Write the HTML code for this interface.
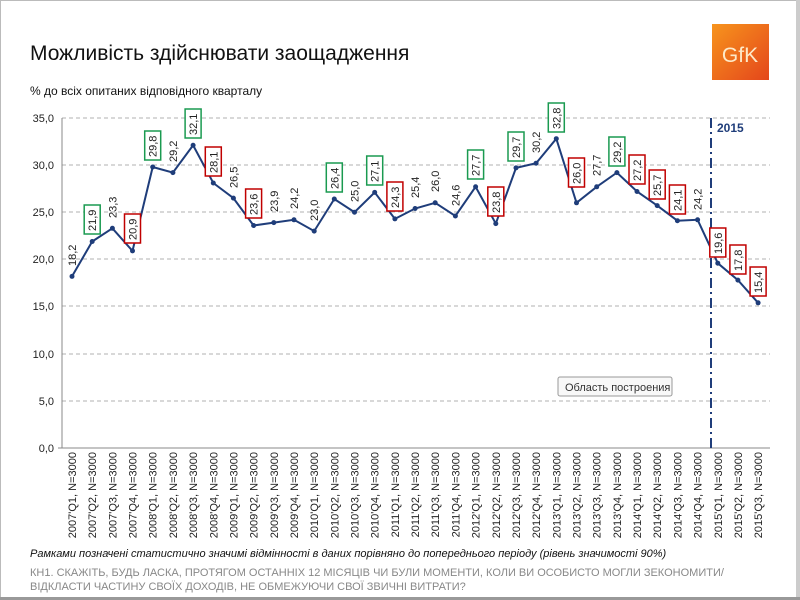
<!DOCTYPE html>
<html><head><meta charset="utf-8"><style>
body{margin:0;background:#fff;}
svg{display:block;font-family:"Liberation Sans",sans-serif;}
</style></head><body>
<svg width="800" height="600" viewBox="0 0 800 600">
<rect x="0.5" y="0.5" width="797" height="597" fill="#fff" stroke="#bbb"/>
<rect x="796" y="0" width="4" height="600" fill="#ccc"/>
<rect x="0" y="597" width="800" height="3" fill="#999"/>
<text x="30" y="60" font-size="21" fill="#111">Можливість здійснювати заощадження</text>
<text x="30" y="95" font-size="12" fill="#111">% до всіх опитаних відповідного кварталу</text>
<defs><linearGradient id="g" x1="0" y1="0" x2="1" y2="1"><stop offset="0" stop-color="#f7941d"/><stop offset="1" stop-color="#e4461b"/></linearGradient></defs>
<rect x="712" y="24" width="57" height="56" fill="url(#g)"/>
<text x="740" y="62" font-size="21" fill="#fde9c8" text-anchor="middle">GfK</text>
<g stroke="#b0b0b0" stroke-dasharray="4,3" stroke-width="1">
<line x1="62" y1="118" x2="770" y2="118"/><line x1="62" y1="165" x2="770" y2="165"/>
<line x1="62" y1="212" x2="770" y2="212"/><line x1="62" y1="259" x2="770" y2="259"/>
<line x1="62" y1="306" x2="770" y2="306"/><line x1="62" y1="354" x2="770" y2="354"/>
<line x1="62" y1="401" x2="770" y2="401"/></g>
<line x1="62" y1="118" x2="62" y2="448" stroke="#888"/>
<line x1="58" y1="448" x2="770" y2="448" stroke="#888"/>
<g font-size="11" fill="#222" text-anchor="end">
<text x="54" y="122">35,0</text><text x="54" y="169">30,0</text><text x="54" y="216">25,0</text>
<text x="54" y="263">20,0</text><text x="54" y="310">15,0</text><text x="54" y="358">10,0</text>
<text x="54" y="405">5,0</text><text x="54" y="452">0,0</text></g>
<line x1="711" y1="118" x2="711" y2="448" stroke="#1f3d7a" stroke-width="2" stroke-dasharray="10,4,2,4"/>
<text x="717" y="132" font-size="12" font-weight="bold" fill="#1f3d7a">2015</text>
<polyline fill="none" stroke="#1f3d7a" stroke-width="2" points="72,276.4 92.2,241.5 112.4,228.3 132.5,250.9 152.7,167 172.9,172.6 193.1,145.3 213.3,183 233.4,198.1 253.6,225.5 273.8,222.6 294,219.8 314.2,231.1 334.3,199 354.5,212.2 374.7,192.4 394.9,218.9 415.1,208.5 435.2,202.8 455.4,216 475.6,186.8 495.8,223.6 516,167.9 536.1,163.2 556.3,138.7 576.5,202.8 596.7,186.8 616.9,172.6 637,191.5 657.2,205.6 677.4,220.7 697.6,219.8 717.8,263.2 737.9,280.1 758.1,302.8"/>
<g fill="#1f3d7a">
<circle cx="72" cy="276.4" r="2.5"/><circle cx="92.2" cy="241.5" r="2.5"/><circle cx="112.4" cy="228.3" r="2.5"/><circle cx="132.5" cy="250.9" r="2.5"/><circle cx="152.7" cy="167" r="2.5"/><circle cx="172.9" cy="172.6" r="2.5"/><circle cx="193.1" cy="145.3" r="2.5"/><circle cx="213.3" cy="183" r="2.5"/><circle cx="233.4" cy="198.1" r="2.5"/><circle cx="253.6" cy="225.5" r="2.5"/><circle cx="273.8" cy="222.6" r="2.5"/><circle cx="294" cy="219.8" r="2.5"/><circle cx="314.2" cy="231.1" r="2.5"/><circle cx="334.3" cy="199" r="2.5"/><circle cx="354.5" cy="212.2" r="2.5"/><circle cx="374.7" cy="192.4" r="2.5"/><circle cx="394.9" cy="218.9" r="2.5"/><circle cx="415.1" cy="208.5" r="2.5"/><circle cx="435.2" cy="202.8" r="2.5"/><circle cx="455.4" cy="216" r="2.5"/><circle cx="475.6" cy="186.8" r="2.5"/><circle cx="495.8" cy="223.6" r="2.5"/><circle cx="516" cy="167.9" r="2.5"/><circle cx="536.1" cy="163.2" r="2.5"/><circle cx="556.3" cy="138.7" r="2.5"/><circle cx="576.5" cy="202.8" r="2.5"/><circle cx="596.7" cy="186.8" r="2.5"/><circle cx="616.9" cy="172.6" r="2.5"/><circle cx="637" cy="191.5" r="2.5"/><circle cx="657.2" cy="205.6" r="2.5"/><circle cx="677.4" cy="220.7" r="2.5"/><circle cx="697.6" cy="219.8" r="2.5"/><circle cx="717.8" cy="263.2" r="2.5"/><circle cx="737.9" cy="280.1" r="2.5"/><circle cx="758.1" cy="302.8" r="2.5"/>
</g>
<g font-size="11" fill="#222">
<g transform="translate(76,266) rotate(-90)"><text>18,2</text></g>
<g transform="translate(96.2,231) rotate(-90)"><rect x="-3" y="-12" width="29" height="16" fill="#fff" stroke="#1a9a50" stroke-width="1.5"/><text>21,9</text></g>
<g transform="translate(116.4,218) rotate(-90)"><text>23,3</text></g>
<g transform="translate(136.5,240) rotate(-90)"><rect x="-3" y="-12" width="29" height="16" fill="#fff" stroke="#c00000" stroke-width="1.5"/><text>20,9</text></g>
<g transform="translate(156.7,157) rotate(-90)"><rect x="-3" y="-12" width="29" height="16" fill="#fff" stroke="#1a9a50" stroke-width="1.5"/><text>29,8</text></g>
<g transform="translate(176.9,162) rotate(-90)"><text>29,2</text></g>
<g transform="translate(197.1,135) rotate(-90)"><rect x="-3" y="-12" width="29" height="16" fill="#fff" stroke="#1a9a50" stroke-width="1.5"/><text>32,1</text></g>
<g transform="translate(217.3,173) rotate(-90)"><rect x="-3" y="-12" width="29" height="16" fill="#fff" stroke="#c00000" stroke-width="1.5"/><text>28,1</text></g>
<g transform="translate(237.4,188) rotate(-90)"><text>26,5</text></g>
<g transform="translate(257.6,215) rotate(-90)"><rect x="-3" y="-12" width="29" height="16" fill="#fff" stroke="#c00000" stroke-width="1.5"/><text>23,6</text></g>
<g transform="translate(277.8,212) rotate(-90)"><text>23,9</text></g>
<g transform="translate(298,209) rotate(-90)"><text>24,2</text></g>
<g transform="translate(318.2,221) rotate(-90)"><text>23,0</text></g>
<g transform="translate(338.3,189) rotate(-90)"><rect x="-3" y="-12" width="29" height="16" fill="#fff" stroke="#1a9a50" stroke-width="1.5"/><text>26,4</text></g>
<g transform="translate(358.5,202) rotate(-90)"><text>25,0</text></g>
<g transform="translate(378.7,182) rotate(-90)"><rect x="-3" y="-12" width="29" height="16" fill="#fff" stroke="#1a9a50" stroke-width="1.5"/><text>27,1</text></g>
<g transform="translate(398.9,208) rotate(-90)"><rect x="-3" y="-12" width="29" height="16" fill="#fff" stroke="#c00000" stroke-width="1.5"/><text>24,3</text></g>
<g transform="translate(419.1,198) rotate(-90)"><text>25,4</text></g>
<g transform="translate(439.2,192) rotate(-90)"><text>26,0</text></g>
<g transform="translate(459.4,206) rotate(-90)"><text>24,6</text></g>
<g transform="translate(479.6,176) rotate(-90)"><rect x="-3" y="-12" width="29" height="16" fill="#fff" stroke="#1a9a50" stroke-width="1.5"/><text>27,7</text></g>
<g transform="translate(499.8,213) rotate(-90)"><rect x="-3" y="-12" width="29" height="16" fill="#fff" stroke="#c00000" stroke-width="1.5"/><text>23,8</text></g>
<g transform="translate(520,158) rotate(-90)"><rect x="-3" y="-12" width="29" height="16" fill="#fff" stroke="#1a9a50" stroke-width="1.5"/><text>29,7</text></g>
<g transform="translate(540.1,153) rotate(-90)"><text>30,2</text></g>
<g transform="translate(560.3,129) rotate(-90)"><rect x="-3" y="-12" width="29" height="16" fill="#fff" stroke="#1a9a50" stroke-width="1.5"/><text>32,8</text></g>
<g transform="translate(580.5,184) rotate(-90)"><rect x="-3" y="-12" width="29" height="16" fill="#fff" stroke="#c00000" stroke-width="1.5"/><text>26,0</text></g>
<g transform="translate(600.7,176) rotate(-90)"><text>27,7</text></g>
<g transform="translate(620.9,163) rotate(-90)"><rect x="-3" y="-12" width="29" height="16" fill="#fff" stroke="#1a9a50" stroke-width="1.5"/><text>29,2</text></g>
<g transform="translate(641,181) rotate(-90)"><rect x="-3" y="-12" width="29" height="16" fill="#fff" stroke="#c00000" stroke-width="1.5"/><text>27,2</text></g>
<g transform="translate(661.2,196) rotate(-90)"><rect x="-3" y="-12" width="29" height="16" fill="#fff" stroke="#c00000" stroke-width="1.5"/><text>25,7</text></g>
<g transform="translate(681.4,211) rotate(-90)"><rect x="-3" y="-12" width="29" height="16" fill="#fff" stroke="#c00000" stroke-width="1.5"/><text>24,1</text></g>
<g transform="translate(701.6,210) rotate(-90)"><text>24,2</text></g>
<g transform="translate(721.8,254) rotate(-90)"><rect x="-3" y="-12" width="29" height="16" fill="#fff" stroke="#c00000" stroke-width="1.5"/><text>19,6</text></g>
<g transform="translate(741.9,271) rotate(-90)"><rect x="-3" y="-12" width="29" height="16" fill="#fff" stroke="#c00000" stroke-width="1.5"/><text>17,8</text></g>
<g transform="translate(762.1,293) rotate(-90)"><rect x="-3" y="-12" width="29" height="16" fill="#fff" stroke="#c00000" stroke-width="1.5"/><text>15,4</text></g>
</g>
<rect x="558" y="377" width="114" height="19" rx="2" fill="#f8f8f8" stroke="#999"/>
<text x="565" y="391" font-size="11" fill="#333">Область построения</text>
<g font-size="11" fill="#222" text-anchor="end">
<text transform="translate(76,452) rotate(-90)">2007'Q1, N=3000</text>
<text transform="translate(96.2,452) rotate(-90)">2007'Q2, N=3000</text>
<text transform="translate(116.4,452) rotate(-90)">2007'Q3, N=3000</text>
<text transform="translate(136.5,452) rotate(-90)">2007'Q4, N=3000</text>
<text transform="translate(156.7,452) rotate(-90)">2008'Q1, N=3000</text>
<text transform="translate(176.9,452) rotate(-90)">2008'Q2, N=3000</text>
<text transform="translate(197.1,452) rotate(-90)">2008'Q3, N=3000</text>
<text transform="translate(217.3,452) rotate(-90)">2008'Q4, N=3000</text>
<text transform="translate(237.4,452) rotate(-90)">2009'Q1, N=3000</text>
<text transform="translate(257.6,452) rotate(-90)">2009'Q2, N=3000</text>
<text transform="translate(277.8,452) rotate(-90)">2009'Q3, N=3000</text>
<text transform="translate(298,452) rotate(-90)">2009'Q4, N=3000</text>
<text transform="translate(318.2,452) rotate(-90)">2010'Q1, N=3000</text>
<text transform="translate(338.3,452) rotate(-90)">2010'Q2, N=3000</text>
<text transform="translate(358.5,452) rotate(-90)">2010'Q3, N=3000</text>
<text transform="translate(378.7,452) rotate(-90)">2010'Q4, N=3000</text>
<text transform="translate(398.9,452) rotate(-90)">2011'Q1, N=3000</text>
<text transform="translate(419.1,452) rotate(-90)">2011'Q2, N=3000</text>
<text transform="translate(439.2,452) rotate(-90)">2011'Q3, N=3000</text>
<text transform="translate(459.4,452) rotate(-90)">2011'Q4, N=3000</text>
<text transform="translate(479.6,452) rotate(-90)">2012'Q1, N=3000</text>
<text transform="translate(499.8,452) rotate(-90)">2012'Q2, N=3000</text>
<text transform="translate(520,452) rotate(-90)">2012'Q3, N=3000</text>
<text transform="translate(540.1,452) rotate(-90)">2012'Q4, N=3000</text>
<text transform="translate(560.3,452) rotate(-90)">2013'Q1, N=3000</text>
<text transform="translate(580.5,452) rotate(-90)">2013'Q2, N=3000</text>
<text transform="translate(600.7,452) rotate(-90)">2013'Q3, N=3000</text>
<text transform="translate(620.9,452) rotate(-90)">2013'Q4, N=3000</text>
<text transform="translate(641,452) rotate(-90)">2014'Q1, N=3000</text>
<text transform="translate(661.2,452) rotate(-90)">2014'Q2, N=3000</text>
<text transform="translate(681.4,452) rotate(-90)">2014'Q3, N=3000</text>
<text transform="translate(701.6,452) rotate(-90)">2014'Q4, N=3000</text>
<text transform="translate(721.8,452) rotate(-90)">2015'Q1, N=3000</text>
<text transform="translate(741.9,452) rotate(-90)">2015'Q2, N=3000</text>
<text transform="translate(762.1,452) rotate(-90)">2015'Q3, N=3000</text>
</g>
<text x="30" y="557" font-size="11" font-style="italic" fill="#111">Рамками позначені статистично значимі відмінності в даних порівняно до попереднього періоду (рівень значимості 90%)</text>
<text x="30" y="576" font-size="11" fill="#888">КН1. СКАЖІТЬ, БУДЬ ЛАСКА, ПРОТЯГОМ ОСТАННІХ 12 МІСЯЦІВ ЧИ БУЛИ МОМЕНТИ, КОЛИ ВИ ОСОБИСТО МОГЛИ ЗЕКОНОМИТИ/</text>
<text x="30" y="590" font-size="11" fill="#888">ВІДКЛАСТИ ЧАСТИНУ СВОЇХ ДОХОДІВ, НЕ ОБМЕЖУЮЧИ СВОЇ ЗВИЧНІ ВИТРАТИ?</text>
</svg>
</body></html>
